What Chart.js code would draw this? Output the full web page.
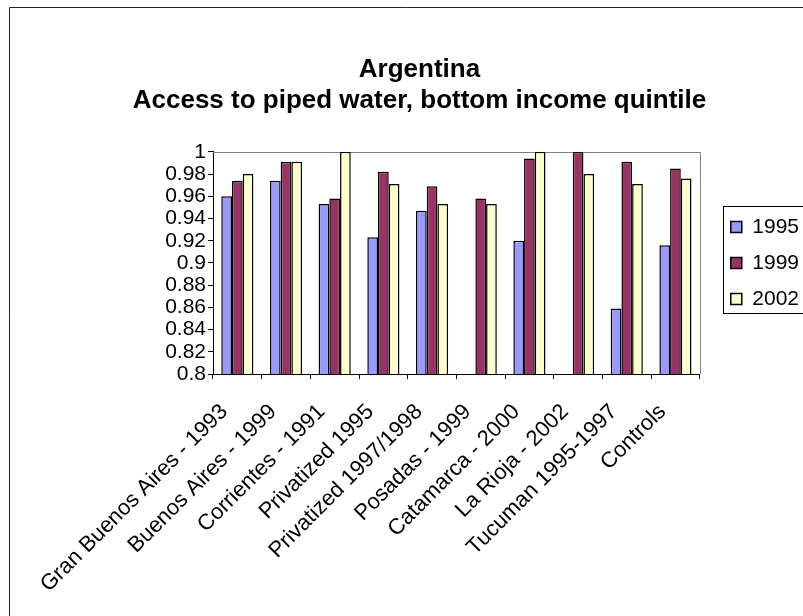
<!DOCTYPE html>
<html>
<head>
<meta charset="utf-8">
<title>Argentina - access to piped water</title>
<script src="https://cdn.jsdelivr.net/npm/chart.js@4.4.1/dist/chart.umd.min.js"></script>
<style>
  html, body { margin: 0; padding: 0; background: #fff; }
  #wrap { width: 803px; height: 616px; }
</style>
</head>
<body>
<div id="wrap"><canvas id="chart" width="803" height="616"></canvas></div>
<script>
const categories = [
    'Gran Buenos Aires - 1993', 'Buenos Aires - 1999', 'Corrientes - 1991',
    'Privatized 1995', 'Privatized 1997/1998', 'Posadas - 1999',
    'Catamarca - 2000', 'La Rioja - 2002', 'Tucuman 1995-1997', 'Controls'
];
const access1995 = [0.960, 0.974, 0.953, 0.923, 0.947, null, 0.920, null, 0.859, 0.916];
const access1999 = [0.974, 0.991, 0.958, 0.982, 0.969, 0.958, 0.994, 1.000, 0.991, 0.985];
const access2002 = [0.980, 0.991, 1.000, 0.971, 0.953, 0.953, 1.000, 0.980, 0.971, 0.976];
const yTickLabels = ['0.8', '0.82', '0.84', '0.86', '0.88', '0.9', '0.92', '0.94', '0.96', '0.98', '1'];

const FONT = 'Arial, "Liberation Sans", sans-serif';

// white page, outer frame and the grey top/right edges of the plot
const framePlugin = {
    id: 'frame',
    beforeDraw(chart) {
        const ctx = chart.ctx;
        ctx.save();
        ctx.fillStyle = '#fff';
        ctx.fillRect(0, 0, chart.width, chart.height);
        ctx.strokeStyle = '#222';
        ctx.lineWidth = 1;
        ctx.beginPath();
        ctx.moveTo(9.5, chart.height + 2);
        ctx.lineTo(9.5, 7.5);
        ctx.lineTo(chart.width + 2, 7.5);
        ctx.stroke();
        ctx.restore();
    },
    beforeDatasetsDraw(chart) {
        const a = chart.chartArea;
        const ctx = chart.ctx;
        ctx.save();
        ctx.strokeStyle = '#808080';
        ctx.lineWidth = 1;
        ctx.beginPath();
        ctx.moveTo(a.left, Math.round(a.top) + 0.5);
        ctx.lineTo(Math.round(a.right) + 0.5, Math.round(a.top) + 0.5);
        ctx.lineTo(Math.round(a.right) + 0.5, a.bottom);
        ctx.stroke();
        ctx.restore();
    },
    afterDraw(chart) {
        // box around the legend
        const lg = chart.legend;
        const hb = lg.legendHitBoxes;
        if (!hb || !hb.length) return;
        const last = hb[hb.length - 1];
        const top = Math.round(hb[0].top - 10) + 0.5;
        const bottom = Math.round(last.top + last.height + 4) + 0.5;
        const left = Math.round(lg.left + 7) + 0.5;
        const ctx = chart.ctx;
        ctx.save();
        ctx.strokeStyle = '#000';
        ctx.lineWidth = 1;
        ctx.strokeRect(left, top, chart.width + 20 - left, bottom - top);
        ctx.restore();
    }
};

new Chart(document.getElementById('chart'), {
    type: 'bar',
    data: {
        labels: categories,
        datasets: [
            { label: '1995', data: access1995, backgroundColor: '#9999ff' },
            { label: '1999', data: access1999, backgroundColor: '#993366' },
            { label: '2002', data: access2002, backgroundColor: '#ffffcc' }
        ]
    },
    options: {
        responsive: false,
        animation: false,
        layout: { padding: { left: 30, right: -6, top: 0, bottom: 0 } },
        datasets: {
            bar: {
                borderColor: '#000',
                borderWidth: 1.5,
                borderSkipped: false,
                categoryPercentage: 0.66,
                barPercentage: 1
            }
        },
        scales: {
            x: {
                grid: { display: true, drawOnChartArea: false, tickLength: 5, color: '#000' },
                border: { display: true, color: '#000' },
                ticks: {
                    autoSkip: false, minRotation: 45, maxRotation: 45, padding: 20, labelOffset: -13,
                    color: '#000', font: { family: FONT, size: 22 }
                },
                afterFit: s => { s.height = 242; }
            },
            y: {
                min: 0.8,
                max: 1,
                grid: { display: true, drawOnChartArea: false, tickLength: 5, color: '#000' },
                border: { display: true, color: '#000' },
                ticks: {
                    autoSkip: false, stepSize: 0.02, padding: 2, color: '#000',
                    font: { family: FONT, size: 21 },
                    callback: v => yTickLabels[Math.round((v - 0.8) / 0.02)]
                },
                afterFit: s => { s.width = 183; }
            },
            // empty axis keeping a gap between the plot and the legend
            gap: {
                type: 'linear', position: 'right', display: true,
                grid: { display: false }, border: { display: false },
                ticks: { display: false },
                afterFit: s => { s.width = 16; }
            }
        },
        plugins: {
            title: {
                display: true,
                text: ['Argentina', 'Access to piped water, bottom income quintile'],
                color: '#000',
                font: { family: FONT, size: 26, weight: 'bold', lineHeight: 1.17 },
                padding: { top: 55, bottom: 36 }
            },
            legend: {
                position: 'right',
                fullSize: false,
                labels: {
                    boxWidth: 11, boxHeight: 11, padding: 15, color: '#000',
                    font: { family: FONT, size: 21 }
                }
            },
            tooltip: { enabled: false }
        }
    },
    plugins: [framePlugin]
});
</script>
</body>
</html>
